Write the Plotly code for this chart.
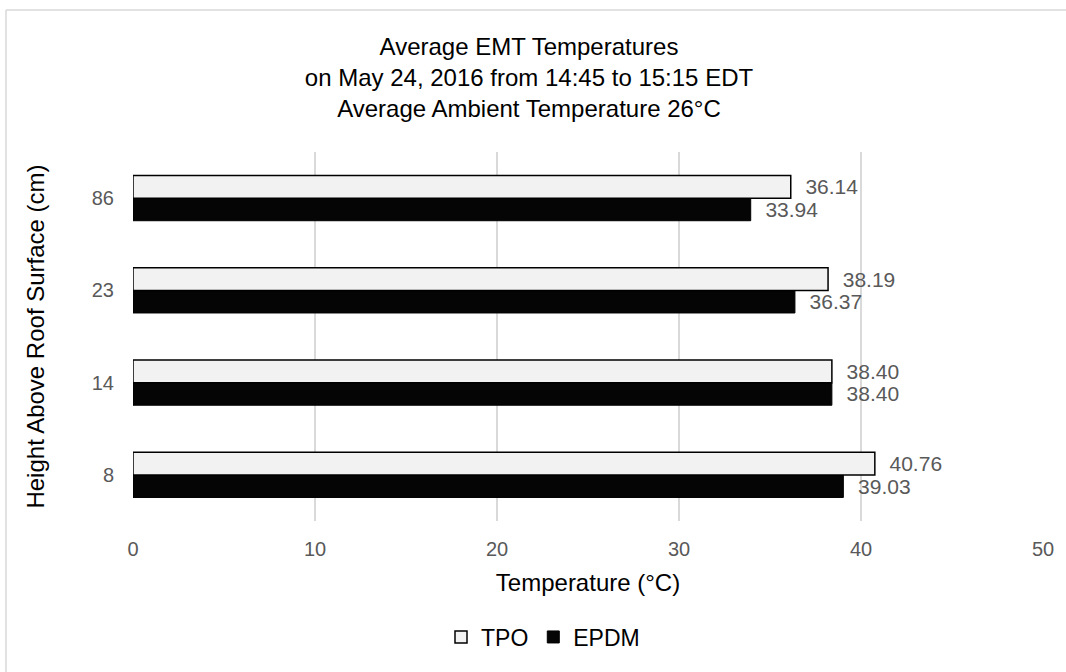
import plotly.graph_objects as go

heights = ["8", "14", "23", "86"]
tpo = [40.76, 38.40, 38.19, 36.14]
epdm = [39.03, 38.40, 36.37, 33.94]
x_ticks = [0, 10, 20, 30, 40, 50]

FONT = "Liberation Sans, Arial, sans-serif"
GRAY = "#595959"

fig = go.Figure()
fig.add_trace(go.Bar(
    name="EPDM", y=heights, x=epdm, orientation="h",
    marker=dict(color="#050505", line=dict(color="#000000", width=1)),
    text=epdm, texttemplate="  %{x:.2f}", textposition="outside",
    constraintext="none", cliponaxis=False,
    textfont=dict(family=FONT, size=21, color=GRAY),
    legendrank=2,
))
fig.add_trace(go.Bar(
    name="TPO", y=heights, x=tpo, orientation="h",
    marker=dict(color="#f2f2f2", line=dict(color="#000000", width=1.5)),
    text=tpo, texttemplate="  %{x:.2f}", textposition="outside",
    constraintext="none", cliponaxis=False,
    textfont=dict(family=FONT, size=21, color=GRAY),
    legendrank=1,
))

L, R, T, B = 133, 23, 152, 151
W, H = 1066, 672
pw, ph = W - L - R, H - T - B
bx = (6 - L) / pw
by = 1 + (T - 10) / ph

fig.update_layout(
    width=W, height=H,
    margin=dict(l=L, r=R, t=T, b=B),
    paper_bgcolor="white", plot_bgcolor="white",
    barmode="group", bargap=0.51, bargroupgap=0,
    font=dict(family=FONT, color="#000000"),
    title=dict(
        text="Average EMT Temperatures<br>on May 24, 2016 from 14:45 to 15:15 EDT<br>Average Ambient Temperature 26°C",
        x=529 / W, xanchor="center", xref="container",
        y=1 - 55 / H, yanchor="top", yref="container",
        font=dict(family=FONT, size=24, color="#000000"),
    ),
    xaxis=dict(
        range=[0, 50], tickvals=x_ticks, showgrid=True,
        gridcolor="#d9d9d9", gridwidth=1.5, zeroline=False, showline=False,
        tickfont=dict(family=FONT, size=20, color=GRAY),
        ticklabelstandoff=14,
        title=dict(text="Temperature (°C)", standoff=15,
                   font=dict(family=FONT, size=24, color="#000000")),
    ),
    yaxis=dict(
        type="category", categoryorder="array", categoryarray=heights,
        showgrid=False, zeroline=False, showline=False,
        tickfont=dict(family=FONT, size=20, color=GRAY),
        ticklabelstandoff=18,
        title=dict(text="Height Above Roof Surface (cm)", standoff=40,
                   font=dict(family=FONT, size=24, color="#000000")),
    ),
    legend=dict(
        orientation="h", x=(543 - L) / pw, xanchor="center",
        y=(H - B - 637) / ph, yanchor="middle",
        font=dict(family=FONT, size=23, color="#000000"),
        itemwidth=30, bgcolor="rgba(0,0,0,0)",
    ),
    shapes=[
        dict(type="line", xref="paper", yref="paper", x0=bx, x1=bx, y0=-1, y1=by,
             line=dict(color="#d9d9d9", width=1.5)),
        dict(type="line", xref="paper", yref="paper", x0=bx, x1=1.2, y0=by, y1=by,
             line=dict(color="#d9d9d9", width=1.5)),
    ],
)

fig.write_html("out.html")
